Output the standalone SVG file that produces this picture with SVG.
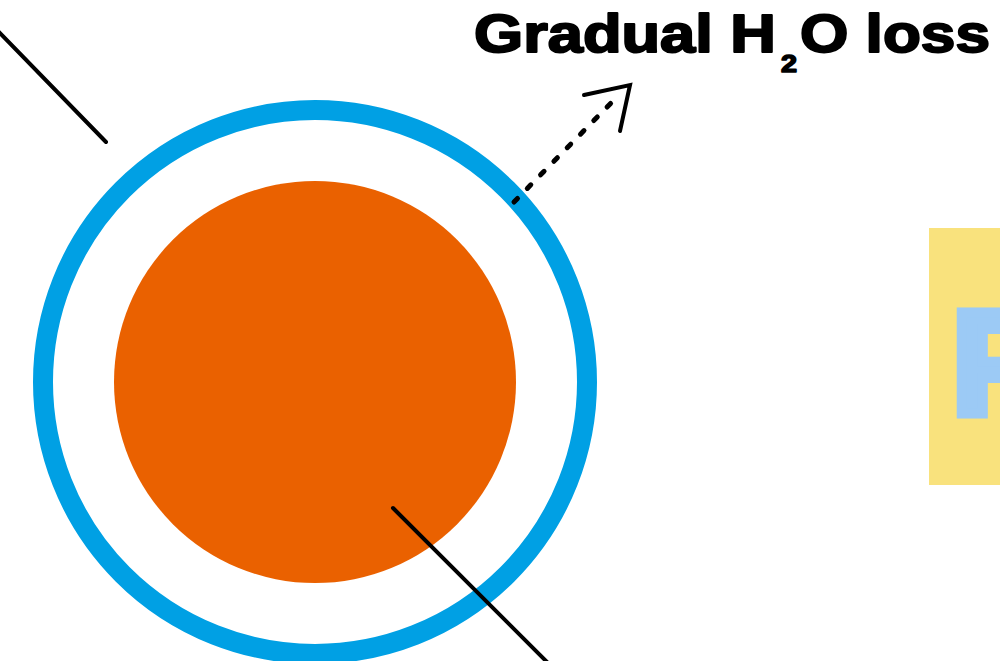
<svg xmlns="http://www.w3.org/2000/svg" width="1000" height="661" viewBox="0 0 1000 661">
<style>
.lbl{font-family:"Liberation Sans",Arial,sans-serif;font-weight:bold;fill:#000;stroke:#000;stroke-width:2;stroke-linejoin:round}
.ln{stroke:#000;stroke-width:4;stroke-linecap:round;fill:none}
</style>
<rect width="1000" height="661" fill="#fff"/>
<g id="cell">
<circle cx="315" cy="382" r="272" fill="none" stroke="#00a0e4" stroke-width="20"/>
<circle cx="315" cy="382" r="201" fill="#ea6100"/>
</g>
<g id="panel">
<rect x="929" y="228" width="80" height="257" fill="#f9e27d"/>
<text x="952" y="414" style="font-family:'Liberation Sans',Arial,sans-serif;font-weight:bold;font-size:146px;fill:#9ccaf5;stroke:#9ccaf5;stroke-width:10;stroke-linejoin:miter">P</text>
</g>
<g id="label">
<text x="474" y="52" class="lbl" style="font-size:53px" textLength="302" lengthAdjust="spacingAndGlyphs">Gradual H</text>
<text x="781" y="72" class="lbl" style="font-size:23px;stroke-width:1.5" textLength="16" lengthAdjust="spacingAndGlyphs">2</text>
<text x="800" y="52" class="lbl" style="font-size:53px" textLength="190" lengthAdjust="spacingAndGlyphs">O loss</text>
</g>
<g id="connectors">
<line class="ln" x1="-2" y1="31" x2="106" y2="142"/>
<line class="ln" x1="393" y1="508" x2="550" y2="665"/>
<line class="ln" x1="514" y1="202" x2="612" y2="102" stroke-dasharray="5 14" style="stroke-width:5"/>
<polyline class="ln" points="584,95 630,85 620,131"/>
</g>
</svg>
